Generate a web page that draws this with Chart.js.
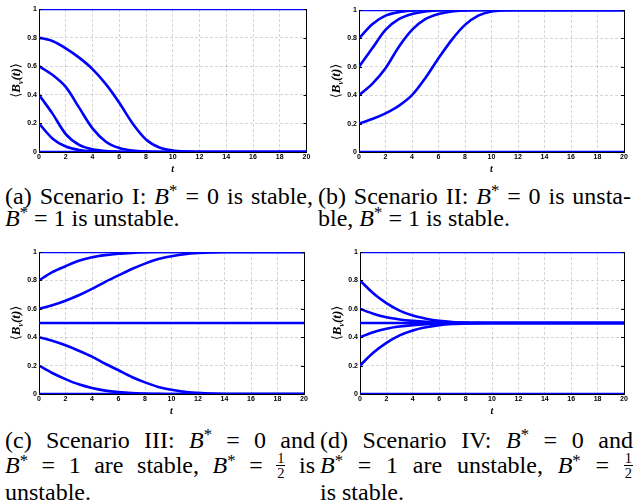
<!DOCTYPE html>
<html><head><meta charset="utf-8">
<script src="https://cdn.jsdelivr.net/npm/chart.js@4"></script>
<style>
body{margin:0;width:637px;height:504px;background:#fff;position:relative;overflow:hidden;font-family:"Liberation Serif","Times New Roman",serif;}
canvas{position:absolute;}
.cap{position:absolute;font-size:24px;line-height:22px;color:#000;}
.cap .j{text-align:justify;text-align-last:justify;}
.cap .l{white-space:nowrap;}
sup{font-size:0.7em;line-height:0;vertical-align:0.45em;}
.fr{display:inline-block;vertical-align:-0.35em;text-align:center;font-size:0.6em;line-height:1;}
.fr span{display:block;padding:0 1px;}
.fr span:first-child{border-bottom:1px solid #000;}
</style>
</head><body>
<canvas id="cA"></canvas><canvas id="cB"></canvas><canvas id="cC"></canvas><canvas id="cD"></canvas>

<div class="cap" style="left:5px;top:185px;width:308px">
<div class="j">(a) Scenario I: <i>B</i><sup>*</sup> = 0 is stable,</div>
<div class="l"><i>B</i><sup>*</sup> = 1 is unstable.</div>
</div>
<div class="cap" style="left:318px;top:185px;width:313px">
<div class="j">(b) Scenario II: <i>B</i><sup>*</sup> = 0 is unsta-</div>
<div class="l">ble, <i>B</i><sup>*</sup> = 1 is stable.</div>
</div>
<div class="cap" style="left:5px;top:429px;width:310px">
<div class="j">(c) Scenario III: <i>B</i><sup>*</sup> = 0 and</div>
<div class="j"><i>B</i><sup>*</sup> = 1 are stable, <i>B</i><sup>*</sup> = <span class="fr"><span>1</span><span>2</span></span> is</div>
<div class="l">unstable.</div>
</div>
<div class="cap" style="left:320px;top:429px;width:313px">
<div class="j">(d) Scenario IV: <i>B</i><sup>*</sup> = 0 and</div>
<div class="j"><i>B</i><sup>*</sup> = 1 are unstable, <i>B</i><sup>*</sup> = <span class="fr"><span>1</span><span>2</span></span></div>
<div class="l">is stable.</div>
</div>

<script>
// ---- data ----
const tValues = [0,1,2,3,4,5,6,7,8,9,10,11,12,13,14,15,16,17,18,19,20];
const xTickValues = [0,2,4,6,8,10,12,14,16,18,20];
const yTickValues = [0,0.2,0.4,0.6,0.8,1];
const yTickLabels = ["0","0.2","0.4","0.6","0.8","1"];

const ones   = [1,1,1,1,1,1,1,1,1,1,1,1,1,1,1,1,1,1,1,1,1];
const zeros  = [0,0,0,0,0,0,0,0,0,0,0,0,0,0,0,0,0,0,0,0,0];
const halves = [0.5,0.5,0.5,0.5,0.5,0.5,0.5,0.5,0.5,0.5,0.5,0.5,0.5,0.5,0.5,0.5,0.5,0.5,0.5,0.5,0.5];

// Scenario I
const a08 = [0.8,0.776,0.725,0.66,0.58,0.475,0.345,0.2,0.088,0.032,0.011,0.003,0,0,0,0,0,0,0,0,0];
const a06 = [0.6,0.54,0.455,0.31,0.165,0.072,0.028,0.01,0.003,0,0,0,0,0,0,0,0,0,0,0,0];
const a04 = [0.4,0.27,0.125,0.05,0.019,0.007,0.002,0,0,0,0,0,0,0,0,0,0,0,0,0,0];
const a02 = [0.2,0.095,0.038,0.014,0.005,0.002,0,0,0,0,0,0,0,0,0,0,0,0,0,0,0];
// Scenario II
const b02 = [0.2,0.232,0.272,0.325,0.4,0.52,0.66,0.79,0.895,0.96,0.99,0.998,1,1,1,1,1,1,1,1,1];
const b04 = [0.4,0.48,0.59,0.74,0.86,0.935,0.972,0.99,0.997,1,1,1,1,1,1,1,1,1,1,1,1];
const b06 = [0.6,0.73,0.86,0.935,0.972,0.99,0.997,1,1,1,1,1,1,1,1,1,1,1,1,1,1];
const b08 = [0.8,0.9,0.96,0.985,0.995,1,1,1,1,1,1,1,1,1,1,1,1,1,1,1,1];
// Scenario III
const c08 = [0.8,0.858,0.9,0.938,0.963,0.978,0.988,0.994,0.998,1,1,1,1,1,1,1,1,1,1,1,1];
const c06 = [0.6,0.625,0.657,0.695,0.74,0.79,0.835,0.88,0.918,0.95,0.97,0.985,0.993,0.997,1,1,1,1,1,1,1];
const c04 = [0.4,0.375,0.343,0.305,0.263,0.213,0.167,0.12,0.082,0.05,0.03,0.015,0.008,0.003,0,0,0,0,0,0,0];
const c02 = [0.2,0.148,0.105,0.068,0.042,0.024,0.013,0.006,0.003,0.001,0,0,0,0,0,0,0,0,0,0,0];
// Scenario IV
const d08 = [0.8,0.71,0.64,0.587,0.552,0.53,0.515,0.507,0.503,0.501,0.5,0.5,0.5,0.5,0.5,0.5,0.5,0.5,0.5,0.5,0.5];
const d06 = [0.6,0.565,0.54,0.525,0.515,0.508,0.504,0.502,0.501,0.5,0.5,0.5,0.5,0.5,0.5,0.5,0.5,0.5,0.5,0.5,0.5];
const d04 = [0.4,0.435,0.46,0.475,0.485,0.492,0.496,0.498,0.499,0.5,0.5,0.5,0.5,0.5,0.5,0.5,0.5,0.5,0.5,0.5,0.5];
const d02 = [0.2,0.29,0.36,0.413,0.448,0.47,0.485,0.493,0.497,0.499,0.5,0.5,0.5,0.5,0.5,0.5,0.5,0.5,0.5,0.5,0.5];

// ---- layout ----
const panels = [
  {id:'cA', col:0,   colW:318, row:0,   L:39,  T:9,   R:306.5, B:152, series:[ones,a08,a06,a04,a02,zeros]},
  {id:'cB', col:318, colW:319, row:0,   L:359, T:10,  R:624,   B:152, series:[ones,b08,b06,b04,b02,zeros]},
  {id:'cC', col:0,   colW:318, row:240, L:39,  T:252, R:304,   B:394, series:[ones,c08,c06,halves,c04,c02,zeros]},
  {id:'cD', col:318, colW:319, row:240, L:360, T:252, R:624,   B:394, series:[ones,d08,d06,halves,d04,d02,zeros]}
];
const BLUE = '#0000ff';
const BOTTOM_H = 24;

const decor = {
  id:'decor',
  afterDraw(chart){
    const ctx = chart.ctx, a = chart.chartArea;
    const ys = chart.scales.y;
    ctx.save();
    ctx.strokeStyle = '#000'; ctx.lineWidth = 1;
    ctx.beginPath();
    yTickValues.forEach(v => {
      const py = Math.round(ys.getPixelForValue(v)) + 0.5;
      ctx.moveTo(a.left, py); ctx.lineTo(a.left + 3, py);
      ctx.moveTo(a.right, py); ctx.lineTo(a.right - 3, py);
    });
    ctx.stroke();
    // x title
    ctx.fillStyle = '#000';
    ctx.font = 'bold italic 10px "Liberation Serif"';
    ctx.textAlign = 'center'; ctx.textBaseline = 'middle';
    ctx.fillText('t', (a.left + a.right) / 2, a.bottom + 17);
    // y title
    ctx.translate(a.left - 22, (a.top + a.bottom) / 2);
    ctx.rotate(-Math.PI / 2);
    const parts = [
      {t:'\u27E8', f:'13px "DejaVu Serif"', dy:0},
      {t:'B', f:'bold italic 13px "Liberation Serif"', dy:0},
      {t:'v', f:'bold italic 8px "Liberation Serif"', dy:3.5},
      {t:'(t)', f:'bold italic 13px "Liberation Serif"', dy:0},
      {t:'\u27E9', f:'13px "DejaVu Serif"', dy:0}
    ];
    let total = 0;
    parts.forEach(p => { ctx.font = p.f; p.w = ctx.measureText(p.t).width; total += p.w; });
    let x = -total / 2;
    ctx.textAlign = 'left';
    parts.forEach(p => { ctx.font = p.f; ctx.fillText(p.t, x, p.dy); x += p.w; });
    ctx.restore();
  }
};

panels.forEach(p => {
  const cv = document.getElementById(p.id);
  const H = p.B - p.row + BOTTOM_H;
  cv.style.left = p.col + 'px'; cv.style.top = p.row + 'px';
  cv.style.width = p.colW + 'px'; cv.style.height = H + 'px';
  cv.width = p.colW; cv.height = H;
  const datasets = p.series.map(s => ({
    data: tValues.map((t, i) => ({x: t, y: s[i]})),
    borderColor: BLUE, borderWidth: 2.6, pointRadius: 0,
    tension: 0.3, fill: false
  }));
  new Chart(cv, {
    type: 'line',
    data: {datasets},
    options: {
      responsive: false, animation: false, devicePixelRatio: 1,
      layout: {autoPadding: false, padding: {top: p.T - p.row, left: 0, right: 0, bottom: 0}},
      plugins: {legend: {display: false}, tooltip: {enabled: false}},
      scales: {
        x: {
          type: 'linear', min: 0, max: 20,
          afterBuildTicks: s => { s.ticks = xTickValues.map(v => ({value: v})); },
          afterFit: s => { s.height = BOTTOM_H; },
          ticks: {font: {family: '"Liberation Sans", Arial', size: 7, weight: 'bold'}, color: '#000', padding: 1, maxRotation: 0},
          grid: {color: 'rgba(0,0,0,0.16)', drawTicks: false},
          border: {display: true, color: '#000', dash: [3, 2]}
        },
        y: {
          type: 'linear', position: 'left', min: 0, max: 1,
          afterBuildTicks: s => { s.ticks = yTickValues.map(v => ({value: v})); },
          afterFit: s => { s.width = p.L - p.col; },
          ticks: {font: {family: '"Liberation Sans", Arial', size: 7, weight: 'bold'}, color: '#000', padding: 2,
                  callback: (v) => yTickLabels[yTickValues.indexOf(v)] ?? ''},
          grid: {color: 'rgba(0,0,0,0.16)', drawTicks: false},
          border: {display: true, color: '#000', dash: [3, 2]}
        },
        y2: {
          type: 'linear', position: 'right', min: 0, max: 1,
          afterFit: s => { s.width = p.col + p.colW - p.R; },
          ticks: {display: false},
          grid: {drawOnChartArea: false, drawTicks: false},
          border: {display: true, color: '#000'}
        }
      }
    },
    plugins: [decor]
  });
});
</script>
</body></html>
